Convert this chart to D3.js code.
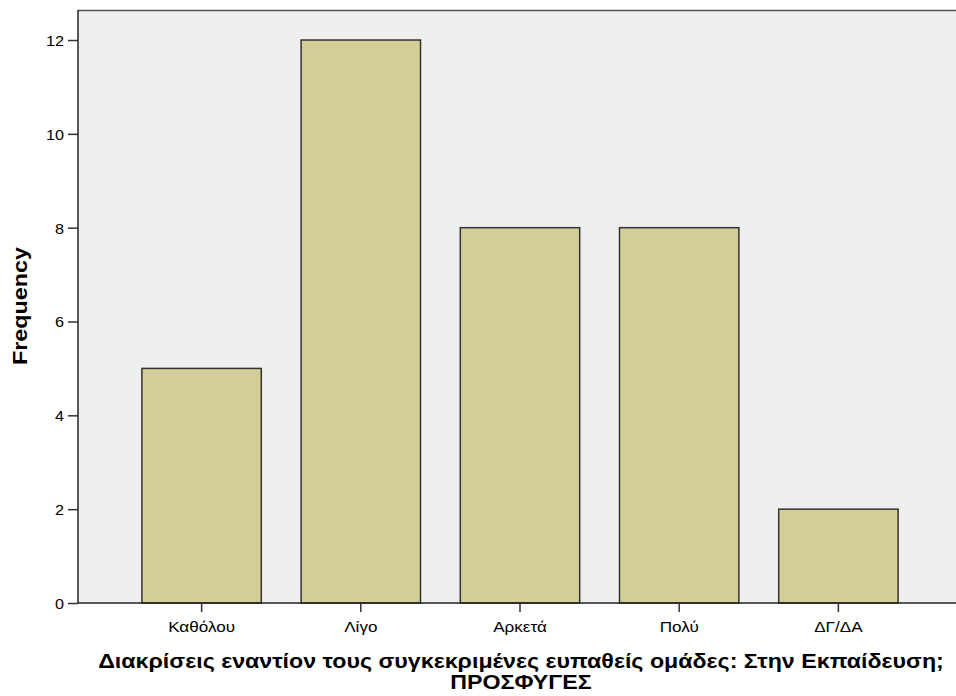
<!DOCTYPE html>
<html><head><meta charset="utf-8">
<script src="https://cdn.jsdelivr.net/npm/d3@7"></script>
<style>body{margin:0;background:#fff;} svg{display:block;font-family:"Liberation Sans",Arial,sans-serif;}</style>
</head><body>
<svg id="c" width="956" height="696"></svg>
<script>
const categories = ["Καθόλου","Λίγο","Αρκετά","Πολύ","ΔΓ/ΔΑ"];
const frequencies = [5,12,8,8,2];
const yTicks = [0,2,4,6,8,10,12];
const xTitleLines = ["Διακρίσεις εναντίον τους συγκεκριμένες ευπαθείς ομάδες: Στην Εκπαίδευση;","ΠΡΟΣΦΥΓΕΣ"];
const yTitle = "Frequency";

const svg = d3.select("#c");
const L = 78, R = 956, T = 10, B = 603;
const FONT = "Liberation Sans, Arial, sans-serif";
const y = d3.scaleLinear().domain([0, 12.64]).range([B, T]);
const x = d3.scaleBand().domain(categories).range([122, 918]).paddingInner(0.25).paddingOuter(0.125);

function stretch(sel, sx) {
  sel.each(function() {
    const w = this.getComputedTextLength();
    d3.select(this).attr("textLength", w * sx).attr("lengthAdjust", "spacingAndGlyphs");
  });
}

svg.append("rect").attr("x", L).attr("y", T).attr("width", R - L).attr("height", B - T).attr("fill", "#efefef");
svg.append("line").attr("x1", L).attr("x2", R).attr("y1", T + 0.5).attr("y2", T + 0.5).attr("stroke", "#555").attr("stroke-width", 1.5);

svg.append("g").selectAll("rect").data(frequencies).join("rect")
  .attr("x", (d, i) => x(categories[i]))
  .attr("y", d => y(d))
  .attr("width", x.bandwidth())
  .attr("height", d => B - y(d))
  .attr("fill", "#d3ce97")
  .attr("stroke", "#333")
  .attr("stroke-width", 1.5);

const ya = svg.append("g").attr("transform", `translate(${L},0)`)
  .call(d3.axisLeft(y).tickValues(yTicks).tickSize(10).tickPadding(4).tickFormat(d3.format("d")));
ya.select(".domain").attr("stroke", "#222").attr("stroke-width", 1.5).attr("d", `M0,${B}V${T}`);
ya.selectAll(".tick line").attr("stroke", "#333").attr("stroke-width", 1.5);
ya.selectAll(".tick text").attr("font-size", 15).attr("fill", "#000").attr("font-family", FONT).attr("dy", "0.36em");
stretch(ya.selectAll(".tick text"), 1.08);

const xa = svg.append("g").attr("transform", `translate(0,${B})`)
  .call(d3.axisBottom(x).tickSize(9).tickPadding(9));
xa.select(".domain").attr("stroke", "#222").attr("stroke-width", 1.5).attr("d", `M${L},0H${R}`);
xa.selectAll(".tick line").attr("stroke", "#333").attr("stroke-width", 1.5);
xa.selectAll(".tick text").attr("font-size", 15).attr("fill", "#000").attr("font-family", FONT);
stretch(xa.selectAll(".tick text"), 1.14);

const yt = svg.append("text").attr("transform", `translate(27,306) rotate(-90)`)
  .attr("text-anchor", "middle").attr("font-size", 21).attr("font-weight", "bold").text(yTitle);
yt.attr("textLength", 118).attr("lengthAdjust", "spacingAndGlyphs");

const xt = svg.append("g").selectAll("text").data(xTitleLines).join("text")
  .attr("x", 521).attr("y", (d, i) => 668 + i * 21)
  .attr("text-anchor", "middle").attr("font-size", 20).attr("font-weight", "bold").text(d => d);
stretch(xt, 1.16);
</script>
</body></html>
